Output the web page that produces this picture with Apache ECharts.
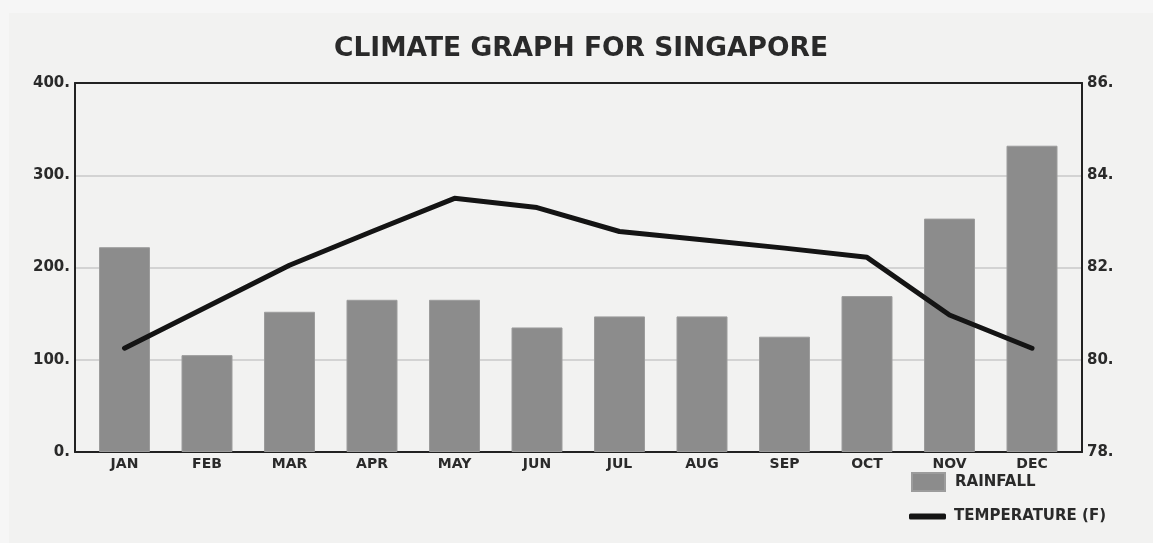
<!DOCTYPE html>
<html>
<head>
<meta charset="utf-8">
<script src="https://cdn.jsdelivr.net/npm/echarts@6/dist/echarts.min.js"></script>
<style>
html,body{margin:0;padding:0;background:#f6f6f6;}
#chart{position:absolute;left:9px;top:13px;width:1144px;height:530px;background:#f2f2f1;}
</style>
</head>
<body>
<div id="chart"></div>
<script>
var months = ['JAN','FEB','MAR','APR','MAY','JUN','JUL','AUG','SEP','OCT','NOV','DEC'];
var rainfall = [222, 105, 152, 165, 165, 135, 147, 147, 125, 169, 253, 332];
var temperature = [80.25, 81.15, 82.05, 82.78, 83.5, 83.3, 82.78, 82.6, 82.42, 82.22, 80.97, 80.25];
var rainTicks = [0, 400, 100];   // min, max, interval
var tempTicks = [78, 86, 2];

var font = 'DejaVu Sans';
var txt = '#2a2a2a';

var myChart = echarts.init(document.getElementById('chart'));
var option = {
	animation: false,
	textStyle: {fontFamily: font},
	title: {
		text: 'CLIMATE GRAPH FOR SINGAPORE',
		left: 'center',
		top: 18,
		textStyle: {fontFamily: font, fontSize: 26.5, fontWeight: 'bold', color: txt}
	},
	legend: [
		{
			data: [{name: 'RAINFALL', icon: 'rect'}],
			left: 897, top: 454,
			itemWidth: 33, itemHeight: 18, itemGap: 10,
			textStyle: {fontFamily: font, fontSize: 15, fontWeight: 'bold', color: txt, padding: [0, 0, 0, 5]}
		},
		{
			data: [{name: 'TEMPERATURE (F)', icon: 'roundRect'}],
			left: 895, top: 491,
			itemWidth: 37, itemHeight: 6, itemGap: 8,
			textStyle: {fontFamily: font, fontSize: 15, fontWeight: 'bold', color: txt, padding: [0, 0, 0, 3]}
		}
	],
	grid: [
		{left: 66, right: 71, top: 70, bottom: 91},
		{left: 74.25, right: 79.75, top: 70, bottom: 91}
	],
	xAxis: [
		{
			gridIndex: 0, type: 'category', data: months, position: 'bottom',
			axisLine: {show: true, lineStyle: {color: '#222', width: 2}},
			axisTick: {show: false}, axisLabel: {show: false}
		},
		{
			gridIndex: 0, type: 'category', data: months, position: 'top',
			axisLine: {show: true, onZero: false, lineStyle: {color: '#222', width: 2}},
			axisTick: {show: false}, axisLabel: {show: false}
		},
		{
			gridIndex: 1, type: 'category', data: months,
			axisLine: {show: false}, axisTick: {show: false},
			axisLabel: {show: true, margin: 5, fontFamily: font, fontSize: 14, fontWeight: 'bold', color: txt}
		}
	],
	yAxis: [
		{
			gridIndex: 0, type: 'value', position: 'left',
			min: rainTicks[0], max: rainTicks[1], interval: rainTicks[2],
			axisLine: {show: true, lineStyle: {color: '#222', width: 2}},
			axisTick: {show: false},
			splitLine: {show: true, lineStyle: {color: '#c8c8c8', width: 1.5}},
			axisLabel: {margin: 5, fontFamily: font, fontSize: 15, fontWeight: 'bold', color: txt,
				padding: [6, 0, 0, 0],
				formatter: function (v) { return v + '.'; }}
		},
		{
			gridIndex: 0, type: 'value', position: 'right',
			min: tempTicks[0], max: tempTicks[1], interval: tempTicks[2],
			axisLine: {show: true, lineStyle: {color: '#222', width: 2}},
			axisTick: {show: false}, splitLine: {show: false},
			axisLabel: {margin: 5, fontFamily: font, fontSize: 15, fontWeight: 'bold', color: txt,
				padding: [6, 0, 0, 0],
				formatter: function (v) { return v + '.'; }}
		},
		{
			gridIndex: 1, type: 'value', min: rainTicks[0], max: rainTicks[1],
			show: false
		},
		{
			gridIndex: 1, type: 'value', min: tempTicks[0], max: tempTicks[1],
			show: false
		}
	],
	series: [
		{
			name: 'RAINFALL', type: 'bar',
			xAxisIndex: 2, yAxisIndex: 2,
			barWidth: 51,
			itemStyle: {color: '#8c8c8c', borderColor: '#9c9c9c', borderWidth: 1},
			data: rainfall
		},
		{
			name: 'TEMPERATURE (F)', type: 'line',
			xAxisIndex: 2, yAxisIndex: 3,
			symbol: 'none',
			lineStyle: {color: '#141414', width: 5, cap: 'round', join: 'round'},
			itemStyle: {color: '#141414'},
			data: temperature
		}
	]
};
myChart.setOption(option);
</script>
</body>
</html>
